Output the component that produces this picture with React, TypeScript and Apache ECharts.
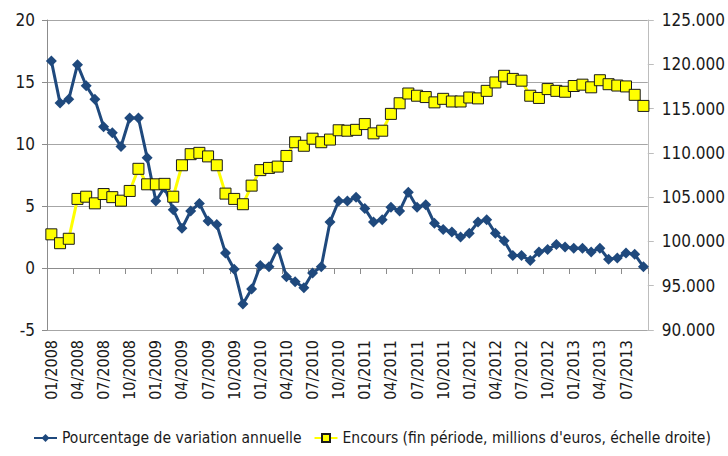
import React, { useEffect, useRef } from "react";
import * as echarts from "echarts";

const months: string[] = [
  "01/2008","02/2008","03/2008","04/2008","05/2008","06/2008","07/2008","08/2008","09/2008","10/2008","11/2008","12/2008",
  "01/2009","02/2009","03/2009","04/2009","05/2009","06/2009","07/2009","08/2009","09/2009","10/2009","11/2009","12/2009",
  "01/2010","02/2010","03/2010","04/2010","05/2010","06/2010","07/2010","08/2010","09/2010","10/2010","11/2010","12/2010",
  "01/2011","02/2011","03/2011","04/2011","05/2011","06/2011","07/2011","08/2011","09/2011","10/2011","11/2011","12/2011",
  "01/2012","02/2012","03/2012","04/2012","05/2012","06/2012","07/2012","08/2012","09/2012","10/2012","11/2012","12/2012",
  "01/2013","02/2013","03/2013","04/2013","05/2013","06/2013","07/2013","08/2013","09/2013",
];

const variation: number[] = [
  16.7, 13.3, 13.6, 16.4, 14.7, 13.6, 11.4, 10.9, 9.8, 12.1, 12.1, 8.9,
  5.4, 6.5, 4.7, 3.2, 4.6, 5.2, 3.8, 3.5, 1.2, -0.1, -2.9, -1.7,
  0.2, 0.1, 1.6, -0.7, -1.1, -1.6, -0.4, 0.1, 3.7, 5.4, 5.4, 5.7,
  4.8, 3.7, 3.9, 4.9, 4.6, 6.1, 4.9, 5.1, 3.6, 3.1, 2.9, 2.5,
  2.8, 3.7, 3.9, 2.8, 2.2, 1.0, 1.0, 0.6, 1.3, 1.5, 1.9, 1.7,
  1.6, 1.6, 1.3, 1.6, 0.7, 0.8, 1.2, 1.1, 0.1,
];

const encours: number[] = [
  100800, 99800, 100300, 104800, 105050, 104300, 105350, 105000, 104600, 105700, 108200, 106450,
  106450, 106500, 105050, 108600, 109850, 110000, 109600, 108600, 105400, 104800, 104200, 106300,
  108050, 108300, 108450, 109650, 111200, 110800, 111600, 111200, 111500, 112550, 112500, 112600,
  113250, 112200, 112500, 114400, 115600, 116700, 116450, 116300, 115700, 116100, 115800, 115800,
  116250, 116150, 117000, 117950, 118700, 118350, 118150, 116450, 116200, 117200, 117000, 116900,
  117550, 117700, 117400, 118200, 117750, 117600, 117500, 116550, 115300,
];

const seriesNames: string[] = [
  "Pourcentage de variation annuelle",
  "Encours (fin période, millions d'euros, échelle droite)",
];

const FONT = "'Liberation Sans Narrow', 'Arial Narrow', 'DejaVu Sans Condensed', sans-serif";
const TEXT = "#1a1a1a";
const GRID = "#a6a6a6";
const AXIS = "#8c8c8c";

export default function App() {
  const ref = useRef<HTMLDivElement>(null);
  useEffect(() => {
    if (!ref.current) return;
    const chart = echarts.init(ref.current, undefined, { renderer: "svg" });
    chart.setOption({
      animation: false,
      backgroundColor: "#ffffff",
      textStyle: { fontFamily: FONT },
      grid: { left: 47, right: 75, top: 20, bottom: 126, containLabel: false },
      legend: {
        left: 31,
        top: 430,
        itemWidth: 23,
        itemHeight: 10,
        itemGap: 12,
        padding: [0, 2],
        textStyle: { fontFamily: FONT, fontSize: 15.5, color: TEXT },
        data: seriesNames,
      },
      xAxis: [
        {
          type: "category",
          data: months,
          boundaryGap: true,
          position: "bottom",
          axisLine: { show: true, onZero: true, onZeroAxisIndex: 0, lineStyle: { color: AXIS, width: 1 } },
          axisTick: { show: true, interval: 2, length: 6, inside: false, lineStyle: { color: AXIS } },
          axisLabel: { show: false },
          splitLine: { show: false },
        },
        {
          type: "category",
          data: months,
          boundaryGap: true,
          position: "bottom",
          axisLine: { show: false, onZero: false },
          axisTick: { show: false },
          axisLabel: {
            show: true,
            interval: 2,
            rotate: 90,
            margin: 10,
            fontFamily: FONT,
            fontSize: 16,
            color: TEXT,
          },
          splitLine: { show: false },
        },
      ],
      yAxis: [
        {
          type: "value",
          min: -5,
          max: 20,
          interval: 5,
          position: "left",
          axisLine: { show: true, lineStyle: { color: AXIS } },
          axisTick: { show: true, length: 5, lineStyle: { color: AXIS } },
          axisLabel: { fontFamily: FONT, fontSize: 17, color: TEXT, margin: 12 },
          splitLine: { show: true, lineStyle: { color: GRID, width: 1 } },
        },
        {
          type: "value",
          min: 90000,
          max: 125000,
          interval: 5000,
          position: "right",
          axisLine: { show: true, lineStyle: { color: "#bdbdbd" } },
          axisTick: { show: true, length: 6, lineStyle: { color: "#bdbdbd" } },
          axisLabel: {
            fontFamily: FONT,
            fontSize: 17,
            color: TEXT,
            margin: 14,
            formatter: (v: number) => (v / 1000).toFixed(3),
          },
          splitLine: { show: false },
        },
      ],
      series: [
        {
          name: seriesNames[0],
          type: "line",
          xAxisIndex: 0,
          yAxisIndex: 0,
          data: variation,
          symbol: "diamond",
          symbolSize: 11,
          showAllSymbol: true,
          itemStyle: { color: "#1f497d" },
          lineStyle: { color: "#1f497d", width: 3 },
          z: 2,
        },
        {
          name: seriesNames[1],
          type: "line",
          xAxisIndex: 0,
          yAxisIndex: 1,
          data: encours,
          symbol: "rect",
          symbolSize: 11,
          showAllSymbol: true,
          itemStyle: { color: "#ffff00", borderColor: "#1a1a1a", borderWidth: 1 },
          lineStyle: { color: "#ffff00", width: 3 },
          z: 3,
        },
      ],
    });
    return () => chart.dispose();
  }, []);
  return (
    <div
      ref={ref}
      style={{ position: "fixed", left: 0, top: 0, width: 728, height: 456 }}
    />
  );
}
